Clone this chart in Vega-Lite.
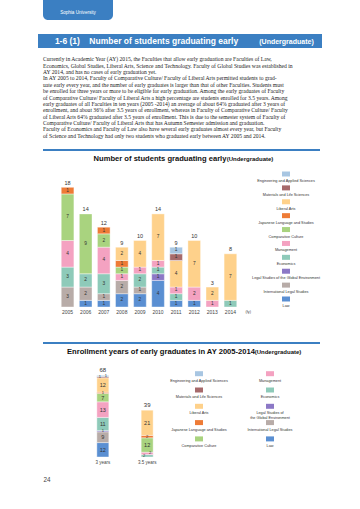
{
  "$schema": "https://vega.github.io/schema/vega-lite/v6.json",
  "background": "white",
  "padding": {"left": 38, "top": 0, "right": 0, "bottom": 0},
  "autosize": {"type": "pad"},
  "config": {"view": {"stroke": null}, "concat": {"spacing": 0}, "font": "Liberation Sans Narrow, Arial Narrow, Liberation Sans, sans-serif"},
  "datasets": {
    "one": [{}],
    "c1": [
      {"year": "2005", "faculty": "International Legal Studies", "n": 3},
      {"year": "2005", "faculty": "Economics", "n": 3},
      {"year": "2005", "faculty": "Management", "n": 4},
      {"year": "2005", "faculty": "Comparative Culture", "n": 7},
      {"year": "2005", "faculty": "Japanese Language and Studies", "n": 1},
      {"year": "2006", "faculty": "Law", "n": 1},
      {"year": "2006", "faculty": "International Legal Studies", "n": 2},
      {"year": "2006", "faculty": "Economics", "n": 2},
      {"year": "2006", "faculty": "Comparative Culture", "n": 9},
      {"year": "2007", "faculty": "Law", "n": 1},
      {"year": "2007", "faculty": "International Legal Studies", "n": 1},
      {"year": "2007", "faculty": "Economics", "n": 3},
      {"year": "2007", "faculty": "Management", "n": 4},
      {"year": "2007", "faculty": "Comparative Culture", "n": 2},
      {"year": "2007", "faculty": "Japanese Language and Studies", "n": 1},
      {"year": "2008", "faculty": "Law", "n": 2},
      {"year": "2008", "faculty": "International Legal Studies", "n": 2},
      {"year": "2008", "faculty": "Management", "n": 1},
      {"year": "2008", "faculty": "Comparative Culture", "n": 1},
      {"year": "2008", "faculty": "Japanese Language and Studies", "n": 1},
      {"year": "2008", "faculty": "Liberal Arts", "n": 2},
      {"year": "2009", "faculty": "Law", "n": 2},
      {"year": "2009", "faculty": "International Legal Studies", "n": 1},
      {"year": "2009", "faculty": "Economics", "n": 2},
      {"year": "2009", "faculty": "Management", "n": 1},
      {"year": "2009", "faculty": "Liberal Arts", "n": 4},
      {"year": "2010", "faculty": "Law", "n": 4},
      {"year": "2010", "faculty": "Legal Studies of the Global Environment", "n": 1},
      {"year": "2010", "faculty": "Economics", "n": 1},
      {"year": "2010", "faculty": "Management", "n": 1},
      {"year": "2010", "faculty": "Liberal Arts", "n": 7},
      {"year": "2011", "faculty": "Law", "n": 1},
      {"year": "2011", "faculty": "Economics", "n": 1},
      {"year": "2011", "faculty": "Management", "n": 1},
      {"year": "2011", "faculty": "Liberal Arts", "n": 4},
      {"year": "2011", "faculty": "Materials and Life Sciences", "n": 1},
      {"year": "2011", "faculty": "Engineering and Applied Sciences", "n": 1},
      {"year": "2012", "faculty": "Law", "n": 1},
      {"year": "2012", "faculty": "Management", "n": 2},
      {"year": "2012", "faculty": "Liberal Arts", "n": 7},
      {"year": "2013", "faculty": "Management", "n": 1},
      {"year": "2013", "faculty": "Liberal Arts", "n": 2},
      {"year": "2014", "faculty": "Economics", "n": 1},
      {"year": "2014", "faculty": "Liberal Arts", "n": 7}
    ],
    "c2": [
      {"years": "3 years", "faculty": "Law", "n": 12},
      {"years": "3 years", "faculty": "International Legal Studies", "n": 9},
      {"years": "3 years", "faculty": "Legal Studies of the Global Environment", "n": 1},
      {"years": "3 years", "faculty": "Economics", "n": 11},
      {"years": "3 years", "faculty": "Management", "n": 13},
      {"years": "3 years", "faculty": "Comparative Culture", "n": 7},
      {"years": "3 years", "faculty": "Japanese Language and Studies", "n": 1},
      {"years": "3 years", "faculty": "Liberal Arts", "n": 12},
      {"years": "3 years", "faculty": "Materials and Life Sciences", "n": 1},
      {"years": "3 years", "faculty": "Engineering and Applied Sciences", "n": 1},
      {"years": "3.5 years", "faculty": "Economics", "n": 2},
      {"years": "3.5 years", "faculty": "Management", "n": 2},
      {"years": "3.5 years", "faculty": "Comparative Culture", "n": 12},
      {"years": "3.5 years", "faculty": "Japanese Language and Studies", "n": 2},
      {"years": "3.5 years", "faculty": "Liberal Arts", "n": 21}
    ],
    "leg1": [
      {"faculty": "Engineering and Applied Sciences"},
      {"faculty": "Materials and Life Sciences"},
      {"faculty": "Liberal Arts"},
      {"faculty": "Japanese Language and Studies"},
      {"faculty": "Comparative Culture"},
      {"faculty": "Management"},
      {"faculty": "Economics"},
      {"faculty": "Legal Studies of the Global Environment"},
      {"faculty": "International Legal Studies"},
      {"faculty": "Law"}
    ],
    "leg2a": [
      {"faculty": "Engineering and Applied Sciences", "label": "Engineering and Applied Sciences"},
      {"faculty": "Materials and Life Sciences", "label": "Materials and Life Sciences"},
      {"faculty": "Liberal Arts", "label": "Liberal Arts"},
      {"faculty": "Japanese Language and Studies", "label": "Japanese Language and Studies"},
      {"faculty": "Comparative Culture", "label": "Comparative Culture"}
    ],
    "leg2b": [
      {"faculty": "Management", "label": "Management"},
      {"faculty": "Economics", "label": "Economics"},
      {"faculty": "Legal Studies of the Global Environment", "label": "Legal Studies of\nthe Global Environment"},
      {"faculty": "International Legal Studies", "label": "International Legal Studies"},
      {"faculty": "Law", "label": "Law"}
    ]
  },
  "vconcat": [
    {"hconcat": [
      {"width": 5, "height": 20, "data": {"name": "one"}, "mark": {"type": "rect", "opacity": 0}},
      {"width": 70, "height": 20, "data": {"values": [{"t": "Sophia University"}]},
       "layer": [
         {"mark": {"type": "rect", "color": "#3b7fc2", "cornerRadiusBottomLeft": 5, "cornerRadiusBottomRight": 5}},
         {"mark": {"type": "text", "color": "white", "fontSize": 4.6, "font": "Liberation Sans", "dy": 3}, "encoding": {"text": {"field": "t"}}}
       ]}
    ], "spacing": 0, "bounds": "flush"},
    {"width": 10, "height": 14, "data": {"name": "one"}, "mark": {"type": "rect", "opacity": 0}},
    {"hconcat": [
      {"width": 217, "height": 14, "data": {"values": [{"t": "1-6 (1)\u00a0\u00a0\u00a0\u00a0Number of students graduating early"}]},
       "layer": [
         {"mark": {"type": "rect", "color": "#3b7fc2"}},
         {"mark": {"type": "text", "color": "white", "fontSize": 8.5, "fontWeight": "bold", "font": "Liberation Sans", "baseline": "alphabetic", "dy": 3}, "encoding": {"text": {"field": "t"}}}
       ]},
      {"width": 67, "height": 14, "data": {"values": [{"t": "(Undergraduate)"}]},
       "layer": [
         {"mark": {"type": "rect", "color": "#3b7fc2"}},
         {"mark": {"type": "text", "color": "white", "fontSize": 7, "fontWeight": "bold", "font": "Liberation Sans", "baseline": "alphabetic", "dy": 3, "dx": -2}, "encoding": {"text": {"field": "t"}}}
       ]}
    ], "spacing": 0, "bounds": "flush"},
    {"width": 10, "height": 7, "data": {"name": "one"}, "mark": {"type": "rect", "opacity": 0}},
    {"hconcat": [
      {"width": 5, "height": 85, "data": {"name": "one"}, "mark": {"type": "rect", "opacity": 0}},
      {"width": 280, "height": 85,
       "data": {"values": [{"t": "\u00a0\u00a0\u00a0\u00a0Currently in Academic Year (AY) 2015, the Faculties that allow early graduation are Faculties of Law,\nEconomics, Global Studies, Liberal Arts, Science and Technology. Faculty of Global Studies was established in\nAY 2014, and has no cases of early graduation yet.\n\u00a0\u00a0\u00a0\u00a0In AY 2005 to 2014, Faculty of Comparative Culture/ Faculty of Liberal Arts permitted students to grad-\nuate early every year, and the number of early graduates is larger than that of other Faculties. Students must\nbe enrolled for three years or more to be eligible for early graduation. Among the early graduates of Faculty\nof Comparative Culture/ Faculty of Liberal Arts a high percentage are students enrolled for 3.5 years. Among\nearly graduates of all Faculties in ten years (2005 -2014) an average of about 64% graduated after 3 years of\nenrollment, and about 36% after 3.5 years of enrollment, whereas in Faculty of Comparative Culture/ Faculty\nof Liberal Arts 64% graduated after 3.5 years of enrollment. This is due to the semester system of Faculty of\nComparative Culture/ Faculty of Liberal Arts that has Autumn Semester admission and graduation.\n\u00a0\u00a0\u00a0\u00a0Faculty of Economics and Faculty of Law also have several early graduates almost every year, but Faculty\nof Science and Technology had only two students who graduated early between AY 2005 and 2014."}]},
       "layer": [
         {"mark": {"type": "rect", "opacity": 0}},
         {"mark": {"type": "text", "align": "left", "baseline": "middle", "dy": 4.3, "lineBreak": "\n", "lineHeight": 6.37, "font": "Liberation Serif", "fontSize": 5.6, "color": "#222"},
          "encoding": {
            "x": {"datum": 0, "type": "quantitative", "scale": {"domain": [0, 1]}, "axis": null},
            "y": {"datum": 1, "type": "quantitative", "scale": {"domain": [0, 1]}, "axis": null},
            "text": {"field": "t"}}}
       ]}
    ], "spacing": 0, "bounds": "flush"},
    {"width": 10, "height": 9, "data": {"name": "one"}, "mark": {"type": "rect", "opacity": 0}},
    {"hconcat": [
      {"width": 5, "height": 2, "data": {"name": "one"}, "mark": {"type": "rect", "opacity": 0}},
      {"width": 277, "height": 2, "data": {"name": "one"}, "mark": {"type": "rect", "color": "#3b7fc2"}}
    ], "spacing": 0, "bounds": "flush"},
    {"hconcat": [
      {"width": 59, "height": 14, "data": {"name": "one"}, "mark": {"type": "rect", "opacity": 0}},
      {"width": 126, "height": 14, "data": {"values": [{"t": "Number of students graduating early"}]},
       "layer": [
         {"mark": {"type": "rect", "opacity": 0}},
         {"mark": {"type": "text", "color": "#111", "fontSize": 7.6, "fontWeight": "bold", "baseline": "alphabetic", "dy": 2.8}, "encoding": {"text": {"field": "t"}}}
       ]},
      {"width": 54, "height": 14, "data": {"values": [{"t": "(Undergraduate)"}]},
       "layer": [
         {"mark": {"type": "rect", "opacity": 0}},
         {"mark": {"type": "text", "color": "#111", "fontSize": 6, "fontWeight": "bold", "baseline": "alphabetic", "dy": 2.8}, "encoding": {"text": {"field": "t"}}}
       ]}
    ], "spacing": 0, "bounds": "flush"},
    {"width": 10, "height": 5.1, "data": {"name": "one"}, "mark": {"type": "rect", "opacity": 0}},
    {"hconcat": [
      {"width": 16, "height": 20, "data": {"name": "one"}, "mark": {"type": "rect", "opacity": 0}},
      {"width": 190, "height": 133,
       "data": {"name": "c1"},
       "layer": [
         {"transform": [
            {"calculate": "indexof(['Law','International Legal Studies','Legal Studies of the Global Environment','Economics','Management','Comparative Culture','Japanese Language and Studies','Liberal Arts','Materials and Life Sciences','Engineering and Applied Sciences'], datum.faculty)", "as": "k"},
            {"stack": "n", "groupby": ["year"], "sort": [{"field": "k", "order": "ascending"}], "as": ["y0", "y1"]},
            {"calculate": "(datum.y0 + datum.y1) / 2", "as": "ym"}
          ],
          "layer": [
            {"mark": {"type": "bar", "stroke": "white", "strokeWidth": 0.4},
             "encoding": {
               "x": {"field": "year", "type": "ordinal", "scale": {"paddingInner": 0.3, "paddingOuter": 0.4},
                     "axis": {"title": "(fy)", "titleAlign": "left", "titleBaseline": "middle", "titleX": 191, "titleY": 4.5, "titleFontSize": 3.8, "titleFontWeight": "normal", "titleColor": "#444", "labelAngle": 0, "ticks": false, "domain": false, "labelPadding": 2, "labelFontSize": 5, "labelColor": "#444"}},
               "y": {"field": "y0", "type": "quantitative", "scale": {"domain": [0, 20]},
                     "axis": {"title": "(people)", "titleAngle": 0, "titleAlign": "left", "titleBaseline": "middle", "titleX": -9, "titleY": -7, "titleFontSize": 3.8, "titleFontWeight": "normal", "titleColor": "#444", "values": [0, 2, 4, 6, 8, 10, 12, 14, 16, 18, 20], "grid": true, "gridColor": "#cfcfcf", "gridWidth": 0.5, "domain": true, "domainColor": "#cfcfcf", "domainWidth": 0.5, "ticks": true, "tickSize": 2, "tickColor": "#cfcfcf", "tickWidth": 0.5, "labelPadding": 1.5, "labelFontSize": 4.5, "labelColor": "#444"}},
               "y2": {"field": "y1"},
               "color": {"field": "faculty", "type": "nominal", "scale": {"domain": ["Law", "International Legal Studies", "Legal Studies of the Global Environment", "Economics", "Management", "Comparative Culture", "Japanese Language and Studies", "Liberal Arts", "Materials and Life Sciences", "Engineering and Applied Sciences"], "range": ["#5a8fd2", "#b8aca8", "#8c78c6", "#8ecab9", "#f4a2c1", "#a9d37f", "#ee7b36", "#fed18b", "#a66a6b", "#a8c6e2"]}, "legend": null}
             }},
            {"mark": {"type": "text", "fontSize": 4.8, "color": "#333", "baseline": "middle"},
             "encoding": {
               "x": {"field": "year", "type": "ordinal"},
               "y": {"field": "ym", "type": "quantitative", "axis": null},
               "text": {"field": "n"}}}
          ]},
         {"transform": [{"aggregate": [{"op": "sum", "field": "n", "as": "total"}], "groupby": ["year"]}],
          "mark": {"type": "text", "fontSize": 5.5, "color": "#333", "baseline": "bottom", "dy": -1.5},
          "encoding": {
            "x": {"field": "year", "type": "ordinal"},
            "y": {"field": "total", "type": "quantitative", "axis": null},
            "text": {"field": "total"}}}
       ]},
      {"width": 2, "height": 20, "data": {"name": "one"}, "mark": {"type": "rect", "opacity": 0}},
      {"width": 80, "height": 125,
       "data": {"name": "leg1"},
       "encoding": {"y": {"field": "faculty", "type": "nominal", "sort": null, "scale": {"type": "point", "padding": 0}, "axis": null}},
       "layer": [
         {"mark": {"type": "point", "shape": "M-0.8,-0.5L0.8,-0.5L0.8,0.5L-0.8,0.5Z", "size": 100, "filled": true, "opacity": 1, "strokeWidth": 0},
          "encoding": {"color": {"field": "faculty", "type": "nominal", "legend": null}}},
         {"mark": {"type": "text", "baseline": "top", "dy": 5, "fontSize": 3.8, "color": "#333"},
          "encoding": {"text": {"field": "faculty"}}}
       ]}
    ], "spacing": 0, "bounds": "flush"},
    {"width": 10, "height": 28, "data": {"name": "one"}, "mark": {"type": "rect", "opacity": 0}},
    {"hconcat": [
      {"width": 5, "height": 2, "data": {"name": "one"}, "mark": {"type": "rect", "opacity": 0}},
      {"width": 277, "height": 2, "data": {"name": "one"}, "mark": {"type": "rect", "color": "#3b7fc2"}}
    ], "spacing": 0, "bounds": "flush"},
    {"hconcat": [
      {"width": 31, "height": 14, "data": {"name": "one"}, "mark": {"type": "rect", "opacity": 0}},
      {"width": 184, "height": 14, "data": {"values": [{"t": "Enrollment years of early graduates in AY 2005-2014"}]},
       "layer": [
         {"mark": {"type": "rect", "opacity": 0}},
         {"mark": {"type": "text", "color": "#111", "fontSize": 7.6, "fontWeight": "bold", "baseline": "alphabetic", "dy": 2.8}, "encoding": {"text": {"field": "t"}}}
       ]},
      {"width": 50, "height": 14, "data": {"values": [{"t": "(Undergraduate)"}]},
       "layer": [
         {"mark": {"type": "rect", "opacity": 0}},
         {"mark": {"type": "text", "color": "#111", "fontSize": 6, "fontWeight": "bold", "baseline": "alphabetic", "dy": 2.8}, "encoding": {"text": {"field": "t"}}}
       ]}
    ], "spacing": 0, "bounds": "flush"},
    {"width": 10, "height": 2.1, "data": {"name": "one"}, "mark": {"type": "rect", "opacity": 0}},
    {"hconcat": [
      {"width": 42, "height": 20, "data": {"name": "one"}, "mark": {"type": "rect", "opacity": 0}},
      {"width": 90, "height": 96,
       "data": {"name": "c2"},
       "transform": [
          {"calculate": "indexof(['Law','International Legal Studies','Legal Studies of the Global Environment','Economics','Management','Comparative Culture','Japanese Language and Studies','Liberal Arts','Materials and Life Sciences','Engineering and Applied Sciences'], datum.faculty)", "as": "k"},
          {"stack": "n", "groupby": ["years"], "sort": [{"field": "k", "order": "ascending"}], "as": ["y0", "y1"]},
          {"calculate": "(datum.y0 + datum.y1) / 2", "as": "ym"}
       ],
       "layer": [
         {"mark": {"type": "bar", "stroke": "white", "strokeWidth": 0.4},
          "encoding": {
            "x": {"field": "years", "type": "ordinal", "scale": {"paddingInner": 0.73, "paddingOuter": 0.38},
                  "axis": {"title": null, "labelAngle": 0, "ticks": false, "domain": false, "labelPadding": 2, "labelFontSize": 4.5, "labelColor": "#444"}},
            "y": {"field": "y0", "type": "quantitative", "scale": {"domain": [0, 80]},
                  "axis": {"title": "(people)", "titleAngle": 0, "titleAlign": "left", "titleBaseline": "middle", "titleX": -10, "titleY": -6, "titleFontSize": 3.8, "titleFontWeight": "normal", "titleColor": "#444", "values": [0, 10, 20, 30, 40, 50, 60, 70, 80], "grid": true, "gridColor": "#cfcfcf", "gridWidth": 0.5, "domain": true, "domainColor": "#cfcfcf", "domainWidth": 0.5, "ticks": true, "tickSize": 2, "tickColor": "#cfcfcf", "tickWidth": 0.5, "labelPadding": 1.5, "labelFontSize": 4.5, "labelColor": "#444"}},
            "y2": {"field": "y1"},
            "color": {"field": "faculty", "type": "nominal", "legend": null}
          }},
         {"transform": [{"filter": "datum.n > 2"}],
          "mark": {"type": "text", "fontSize": 5.5, "color": "#333", "baseline": "middle"},
          "encoding": {
            "x": {"field": "years", "type": "ordinal"},
            "y": {"field": "ym", "type": "quantitative", "axis": null},
            "text": {"field": "n"}}},
         {"transform": [{"filter": "datum.n <= 2 && (datum.faculty == 'Economics' || datum.faculty == 'Materials and Life Sciences')"}],
          "mark": {"type": "text", "fontSize": 4, "color": "#333", "baseline": "middle", "dx": -3},
          "encoding": {
            "x": {"field": "years", "type": "ordinal"},
            "y": {"field": "ym", "type": "quantitative", "axis": null},
            "text": {"field": "n"}}},
         {"transform": [{"filter": "datum.n <= 2 && (datum.faculty == 'Management' || datum.faculty == 'Engineering and Applied Sciences')"}],
          "mark": {"type": "text", "fontSize": 4, "color": "#333", "baseline": "middle", "dx": 3},
          "encoding": {
            "x": {"field": "years", "type": "ordinal"},
            "y": {"field": "ym", "type": "quantitative", "axis": null},
            "text": {"field": "n"}}},
         {"transform": [{"filter": "datum.n <= 2 && datum.faculty != 'Economics' && datum.faculty != 'Materials and Life Sciences' && datum.faculty != 'Management' && datum.faculty != 'Engineering and Applied Sciences'"}],
          "mark": {"type": "text", "fontSize": 4, "color": "#333", "baseline": "middle"},
          "encoding": {
            "x": {"field": "years", "type": "ordinal"},
            "y": {"field": "ym", "type": "quantitative", "axis": null},
            "text": {"field": "n"}}},
         {"transform": [{"aggregate": [{"op": "sum", "field": "n", "as": "total"}], "groupby": ["years"]}],
          "mark": {"type": "text", "fontSize": 6, "color": "#333", "baseline": "bottom", "dy": -2.5},
          "encoding": {
            "x": {"field": "years", "type": "ordinal"},
            "y": {"field": "total", "type": "quantitative", "axis": null},
            "text": {"field": "total"}}}
       ]},
      {"width": 4, "height": 20, "data": {"name": "one"}, "mark": {"type": "rect", "opacity": 0}},
      {"width": 50, "height": 90.6,
       "data": {"name": "leg2a"},
       "encoding": {"y": {"field": "faculty", "type": "nominal", "sort": null, "scale": {"type": "point", "padding": 0.779}, "axis": null}},
       "layer": [
         {"mark": {"type": "point", "shape": "M-0.8,-0.5L0.8,-0.5L0.8,0.5L-0.8,0.5Z", "size": 100, "filled": true, "opacity": 1, "strokeWidth": 0},
          "encoding": {"color": {"field": "faculty", "type": "nominal", "legend": null}}},
         {"mark": {"type": "text", "baseline": "top", "dy": 5, "fontSize": 3.8, "color": "#333", "lineBreak": "\n", "lineHeight": 4.8},
          "encoding": {"text": {"field": "label"}}}
       ]},
      {"width": 21, "height": 20, "data": {"name": "one"}, "mark": {"type": "rect", "opacity": 0}},
      {"width": 50, "height": 90.6,
       "data": {"name": "leg2b"},
       "encoding": {"y": {"field": "faculty", "type": "nominal", "sort": null, "scale": {"type": "point", "padding": 0.779}, "axis": null}},
       "layer": [
         {"mark": {"type": "point", "shape": "M-0.8,-0.5L0.8,-0.5L0.8,0.5L-0.8,0.5Z", "size": 100, "filled": true, "opacity": 1, "strokeWidth": 0},
          "encoding": {"color": {"field": "faculty", "type": "nominal", "legend": null}}},
         {"mark": {"type": "text", "baseline": "top", "dy": 5, "fontSize": 3.8, "color": "#333", "lineBreak": "\n", "lineHeight": 4.8},
          "encoding": {"text": {"field": "label"}}}
       ]}
    ], "spacing": 0, "bounds": "flush"},
    {"width": 10, "height": 9.5, "data": {"name": "one"}, "mark": {"type": "rect", "opacity": 0}},
    {"hconcat": [
      {"width": 3.5, "height": 12, "data": {"name": "one"}, "mark": {"type": "rect", "opacity": 0}},
      {"width": 10, "height": 12, "data": {"values": [{"t": "24"}]},
       "layer": [
         {"mark": {"type": "rect", "opacity": 0}},
         {"mark": {"type": "text", "color": "#444", "fontSize": 6.3, "font": "Liberation Sans"}, "encoding": {"text": {"field": "t"}}}
       ]}
    ], "spacing": 0, "bounds": "flush"}
  ],
  "spacing": 0
}
